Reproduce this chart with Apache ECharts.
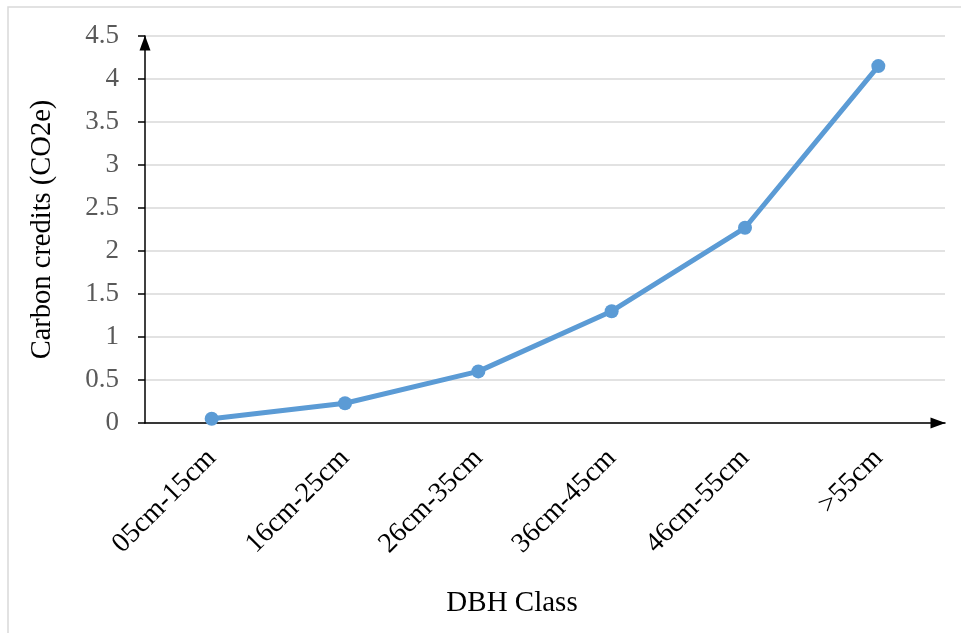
<!DOCTYPE html>
<html>
<head>
<meta charset="utf-8">
<script src="https://cdn.jsdelivr.net/npm/echarts@6/dist/echarts.min.js"></script>
<style>
  html, body { margin: 0; padding: 0; background: #fff; }
  #chart { width: 961px; height: 633px; }
</style>
</head>
<body>
<div id="chart"></div>
<script>
// DBH classes and carbon credits per class
const dbhClasses = ['05cm-15cm', '16cm-25cm', '26cm-35cm', '36cm-45cm', '46cm-55cm', '>55cm'];
const carbonCredits = [0.05, 0.23, 0.60, 1.30, 2.27, 4.15];
const yTicks = { min: 0, max: 4.5, interval: 0.5 };

const serif = '"Liberation Serif", "Times New Roman", serif';
const chart = echarts.init(document.getElementById('chart'));

chart.setOption({
  backgroundColor: '#ffffff',
  animation: false,
  graphic: [{
    type: 'rect',
    shape: { x: 8, y: 7, width: 1000, height: 700 },
    style: { fill: 'none', stroke: '#d9d9d9', lineWidth: 1.5 },
    silent: true,
    z: -1
  }],
  grid: { left: 145, right: 16, top: 36, bottom: 210 },
  xAxis: {
    type: 'category',
    data: dbhClasses,
    boundaryGap: true,
    name: 'DBH Class',
    nameLocation: 'middle',
    nameGap: 166,
    nameTextStyle: { fontFamily: serif, fontSize: 29, color: '#000', padding: [0, 66, 0, 0] },
    axisLine: {
      show: true,
      lineStyle: { color: '#000', width: 1.5 },
      symbol: ['none', 'triangle'],
      symbolSize: [11, 15],
      symbolOffset: [0, -7]
    },
    axisTick: { show: false },
    axisLabel: {
      rotate: 45,
      margin: 31,
      fontFamily: serif,
      fontSize: 28,
      color: '#000'
    },
    splitLine: { show: false }
  },
  yAxis: {
    type: 'value',
    min: yTicks.min,
    max: yTicks.max,
    interval: yTicks.interval,
    name: 'Carbon credits (CO2e)',
    nameLocation: 'middle',
    nameGap: 88,
    nameTextStyle: { fontFamily: serif, fontSize: 28.5, color: '#000' },
    axisLine: {
      show: true,
      lineStyle: { color: '#000', width: 1.5 },
      symbol: ['none', 'triangle'],
      symbolSize: [11, 15],
      symbolOffset: [0, -7]
    },
    axisTick: { show: true, inside: false, length: 7, lineStyle: { color: '#000', width: 1.5 } },
    axisLabel: {
      margin: 26,
      fontFamily: serif,
      fontSize: 27,
      color: '#595959'
    },
    splitLine: { show: true, lineStyle: { color: '#d9d9d9', width: 1.5 } }
  },
  series: [{
    type: 'line',
    data: carbonCredits,
    symbol: 'circle',
    symbolSize: 14,
    lineStyle: { color: '#5b9bd5', width: 5 },
    itemStyle: { color: '#5b9bd5' }
  }]
});
</script>
</body>
</html>
